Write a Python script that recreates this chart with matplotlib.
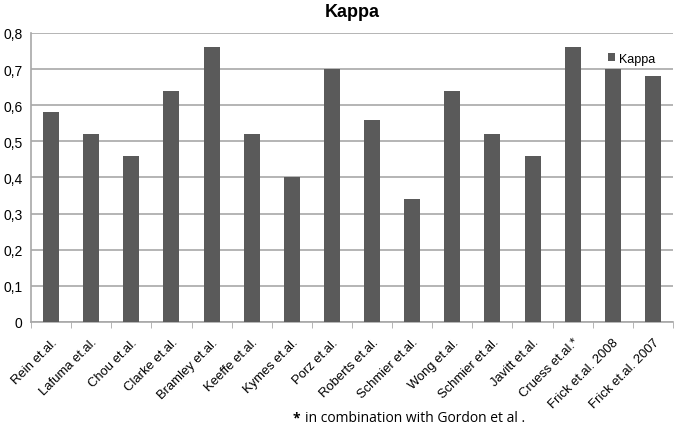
import matplotlib
matplotlib.use("Agg")
import matplotlib.pyplot as plt
from matplotlib.ticker import FuncFormatter

categories = ["Rein et.al.", "Lafuma et.al.", "Chou et.al.", "Clarke et.al.",
              "Bramley et.al.", "Keeffe et.al.", "Kymes et.al.", "Porz et.al.",
              "Roberts et.al.", "Schmier et.al.", "Wong et.al.", "Schmier et.al.",
              "Javitt et.al.", "Cruess et.al.*", "Frick et.al. 2008", "Frick et.al. 2007"]
kappa = [0.58, 0.52, 0.46, 0.64, 0.76, 0.52, 0.40, 0.70,
         0.56, 0.34, 0.64, 0.52, 0.46, 0.76, 0.70, 0.68]
yticks = [0, 0.1, 0.2, 0.3, 0.4, 0.5, 0.6, 0.7, 0.8]

plt.rcParams['font.family'] = ['Liberation Sans', 'DejaVu Sans']

fig = plt.figure(figsize=(6.75, 4.35), dpi=100)
ax = fig.add_axes([0.046, 0.2575, 0.951, 0.6645])

x = list(range(len(categories)))
ax.bar(x, kappa, width=0.4, color="#5a5a5a", label="Kappa", zorder=3)

ax.set_xlim(-0.5, len(categories) - 0.5)
ax.set_ylim(0, 0.8)
ax.set_yticks(yticks)
ax.yaxis.set_major_formatter(FuncFormatter(lambda v, p: "0" if v == 0 else f"{v:.1f}".replace(".", ",")))
ax.yaxis.grid(True, color="#a8a8a8", linewidth=1.2, zorder=0)
ax.tick_params(axis="y", length=0, labelsize=10, pad=6)

ax.set_xticks(x)
ax.set_xticklabels(categories, rotation=45, ha="right", rotation_mode="anchor", fontsize=9.4)
ax.set_xticks([i - 0.5 for i in range(len(categories) + 1)], minor=True)
ax.tick_params(axis="x", which="major", length=0, pad=10)
ax.tick_params(axis="x", which="minor", length=4, color="#a8a8a8")

for s in ["top", "right"]:
    ax.spines[s].set_visible(False)
ax.spines["left"].set_color("#a8a8a8")
ax.spines["bottom"].set_color("#a8a8a8")
ax.spines["left"].set_linewidth(1.2)
ax.spines["bottom"].set_linewidth(1.2)

fig.text(0.522, 0.972, "Kappa", ha="center", va="center", fontsize=13, fontweight="bold")

leg = ax.legend(loc="upper right", bbox_to_anchor=(0.99, 0.97), frameon=False,
                fontsize=9, handlelength=0.6, handleheight=0.6, handletextpad=0.3)

fig.text(0.434, 0.038, "*", ha="left", va="center", fontsize=10, fontweight="bold",
         family=["Open Sans", "DejaVu Sans"])
fig.text(0.452, 0.038, "in combination with Gordon et al .", ha="left", va="center",
         fontsize=10, family=["Open Sans", "DejaVu Sans"])

fig.savefig("out.png", dpi=100)
